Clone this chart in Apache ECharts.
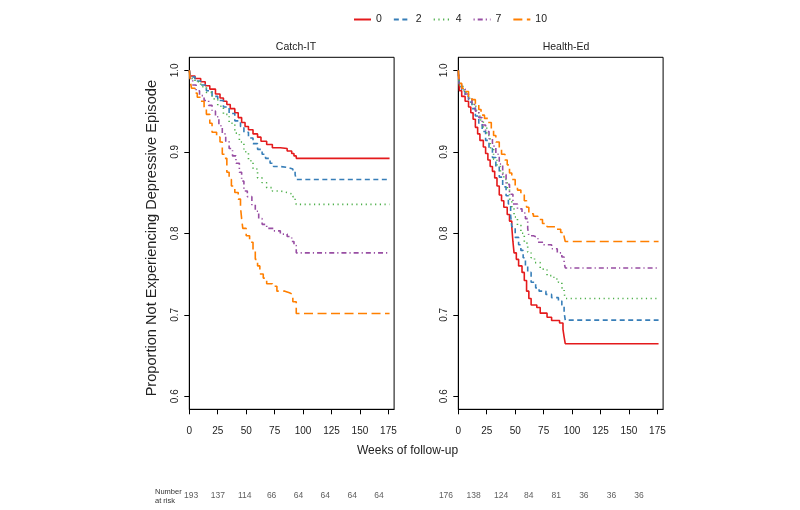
<!DOCTYPE html>
<html>
<head>
<meta charset="utf-8">
<script src="https://cdn.jsdelivr.net/npm/echarts@6/dist/echarts.min.js"></script>
<style>
html,body{margin:0;padding:0;background:#fff;}
#chart{width:800px;height:510px;}
</style>
</head>
<body>
<div id="chart"></div>
<script>
// ---- data ----
const groups = ['0', '2', '4', '7', '10'];
const panels = ['Catch-IT', 'Health-Ed'];
const xTicks = [0, 25, 50, 75, 100, 125, 150, 175];
const yTicks = [0.6, 0.7, 0.8, 0.9, 1.0];

// Catch-IT survival curves [week, proportion]
const catch0 = [[0,1],[1,0.993],[5,0.99],[10,0.986],[14,0.981],[18,0.977],[23,0.971],[27,0.966],[30,0.962],[33,0.958],[36,0.953],[40,0.948],[43,0.942],[46,0.936],[49,0.931],[52,0.927],[56,0.922],[60,0.918],[63,0.913],[68,0.909],[73,0.905],[80,0.904],[86,0.901],[90,0.898],[92,0.895],[94,0.892],[176,0.892]];
const catch2 = [[0,1],[1,0.992],[5,0.987],[10,0.982],[15,0.975],[20,0.968],[25,0.963],[30,0.955],[35,0.947],[40,0.938],[45,0.931],[48,0.924],[52,0.917],[56,0.910],[60,0.903],[64,0.897],[67,0.892],[71,0.886],[74,0.882],[80,0.881],[86,0.879],[91,0.876],[93,0.872],[94,0.866],[176,0.866]];
const catch4 = [[0,1],[1,0.99],[5,0.986],[10,0.98],[15,0.973],[20,0.965],[25,0.956],[30,0.946],[35,0.935],[40,0.923],[44,0.912],[48,0.900],[52,0.889],[56,0.879],[60,0.868],[64,0.862],[68,0.856],[73,0.852],[80,0.850],[86,0.848],[91,0.845],[93,0.842],[94,0.8355],[176,0.8355]];
const catch7 = [[0,1],[1,0.99],[3,0.982],[6,0.975],[9,0.969],[13,0.963],[17,0.957],[20,0.950],[23,0.943],[26,0.932],[29,0.922],[32,0.913],[35,0.904],[38,0.895],[41,0.886],[44,0.875],[46,0.864],[48,0.852],[51,0.845],[55,0.835],[58,0.827],[61,0.818],[64,0.811],[68,0.806],[74,0.803],[80,0.799],[86,0.796],[90,0.790],[92,0.785],[94,0.776],[176,0.776]];
const catch10 = [[0,1],[1,0.985],[2,0.978],[5,0.972],[7,0.967],[10,0.962],[13,0.955],[15,0.946],[18,0.935],[20,0.924],[24,0.918],[27,0.912],[29,0.897],[31,0.892],[33,0.875],[35,0.866],[37,0.858],[40,0.850],[43,0.842],[45,0.832],[46,0.818],[47,0.806],[50,0.797],[53,0.789],[56,0.779],[58,0.768],[60,0.760],[62,0.750],[65,0.745],[68,0.738],[73,0.735],[77,0.729],[84,0.727],[88,0.725],[91,0.716],[94,0.7016],[176,0.7016]];

// Health-Ed survival curves [week, proportion]
const health0 = [[0,1],[0.5,0.985],[1,0.975],[3,0.968],[6,0.962],[9,0.955],[11,0.948],[13,0.940],[15,0.930],[17,0.922],[19,0.914],[22,0.906],[24,0.898],[26,0.890],[28,0.882],[30,0.876],[32,0.868],[34,0.858],[36,0.847],[38,0.840],[40,0.832],[43,0.823],[45,0.815],[47,0.808],[48,0.790],[49,0.776],[51,0.768],[53,0.760],[56,0.752],[58,0.742],[60,0.729],[62,0.720],[64,0.712],[69,0.709],[72,0.702],[78,0.697],[82,0.693],[89,0.690],[92,0.682],[93,0.673],[94,0.6645],[176,0.6645]];
const health2 = [[0,1],[0.5,0.988],[1,0.98],[3,0.974],[6,0.968],[9,0.961],[12,0.953],[15,0.944],[18,0.935],[21,0.925],[24,0.914],[27,0.904],[30,0.893],[33,0.881],[36,0.869],[39,0.857],[42,0.846],[44,0.836],[46,0.822],[47,0.808],[50,0.795],[53,0.786],[55,0.779],[57,0.770],[59,0.760],[61,0.752],[64,0.740],[68,0.733],[71,0.729],[77,0.725],[82,0.721],[88,0.717],[91,0.712],[93,0.703],[94,0.6934],[176,0.6934]];
const health4 = [[0,1],[0.5,0.99],[1,0.982],[4,0.976],[7,0.970],[10,0.963],[13,0.956],[16,0.948],[19,0.939],[22,0.930],[25,0.920],[28,0.905],[31,0.891],[34,0.882],[37,0.874],[40,0.866],[43,0.855],[45,0.842],[47,0.830],[49,0.820],[52,0.810],[55,0.800],[58,0.788],[61,0.777],[64,0.770],[67,0.764],[72,0.756],[78,0.748],[84,0.744],[88,0.740],[91,0.733],[93,0.727],[94,0.720],[176,0.720]];
const health7 = [[0,1],[0.5,0.99],[1,0.984],[3,0.977],[6,0.971],[9,0.965],[12,0.958],[15,0.950],[18,0.942],[21,0.933],[24,0.925],[27,0.916],[30,0.907],[33,0.897],[36,0.885],[39,0.872],[42,0.860],[45,0.848],[48,0.836],[52,0.830],[56,0.825],[59,0.818],[61,0.806],[62,0.797],[66,0.795],[70,0.789],[75,0.786],[82,0.781],[87,0.776],[91,0.771],[93,0.764],[94,0.7575],[176,0.7575]];
const health10 = [[0,1],[0.5,0.99],[1,0.984],[3,0.978],[6,0.974],[9,0.968],[12,0.964],[15,0.959],[18,0.952],[20,0.945],[23,0.941],[26,0.936],[29,0.928],[31,0.920],[33,0.912],[36,0.905],[38,0.897],[41,0.890],[43,0.884],[45,0.874],[47,0.866],[50,0.858],[52,0.853],[55,0.847],[58,0.840],[60,0.832],[62,0.824],[66,0.821],[70,0.817],[74,0.812],[78,0.808],[86,0.805],[90,0.801],[93,0.796],[94,0.790],[176,0.790]];

// Number at risk
const riskCatch = [193, 137, 114, 66, 64, 64, 64, 64];
const riskHealth = [176, 138, 124, 84, 81, 36, 36, 36];

// ---- styling ----
const curveData = [[catch0, catch2, catch4, catch7, catch10], [health0, health2, health4, health7, health10]];
const colors = ['#E41A1C', '#377EB8', '#4DAF4A', '#984EA3', '#FF7F00'];
const dashes = ['solid', [5, 3.5], [1.2, 3.5], [1.2, 3, 5, 3], [9, 4.5]];
const FONT = '"Liberation Sans", Arial, sans-serif';
const plotLeft = [189.3, 458.3];
const plotW = 204.8, plotTop = 57.3, plotH = 352;

const grids = [], xAxes = [], yAxes = [], series = [];
for (let p = 0; p < 2; p++) {
  grids.push({ left: plotLeft[p], top: plotTop, width: plotW, height: plotH,
    show: true, borderColor: '#000', borderWidth: 1, backgroundColor: 'transparent' });
  xAxes.push({ type: 'value', gridIndex: p, min: 0, max: 180,
    axisLine: { show: true, lineStyle: { color: '#000', width: 1 } },
    axisTick: { show: true, length: 5, customValues: xTicks, lineStyle: { color: '#000' } },
    axisLabel: { customValues: xTicks, margin: 17, color: '#222', fontFamily: FONT, fontSize: 10 },
    splitLine: { show: false } });
  yAxes.push({ type: 'value', gridIndex: p, min: 0.584, max: 1.016,
    axisLine: { show: true, lineStyle: { color: '#000', width: 1 } },
    axisTick: { show: true, length: 5, customValues: yTicks, lineStyle: { color: '#000' } },
    axisLabel: { customValues: yTicks, rotate: 90, margin: 9, color: '#222', fontFamily: FONT, fontSize: 10,
      formatter: v => Number(v).toFixed(1) },
    splitLine: { show: false } });
  for (let g = 0; g < groups.length; g++) {
    series.push({ type: 'line', name: groups[g], xAxisIndex: p, yAxisIndex: p,
      data: curveData[p][g], step: 'end', symbol: 'none', silent: true,
      itemStyle: { color: colors[g] },
      lineStyle: { color: colors[g], width: 1.6, type: dashes[g] } });
  }
}

// number-at-risk rows (hidden category grids)
const riskRows = [riskCatch, riskHealth];
const riskLeft = [177.6, 432.2], riskW = [214.9, 220.6];
for (let r = 0; r < 2; r++) {
  const gi = grids.length;
  grids.push({ left: riskLeft[r], top: 488, width: riskW[r], height: 16 });
  xAxes.push({ type: 'category', gridIndex: gi, data: xTicks.map(String), show: false });
  yAxes.push({ type: 'value', gridIndex: gi, min: -1, max: 1, show: false });
  series.push({ type: 'scatter', xAxisIndex: gi, yAxisIndex: gi, symbolSize: 0, silent: true,
    data: riskRows[r].map((n, i) => [i, 0, n]),
    label: { show: true, position: 'inside', formatter: pr => String(pr.value[2]),
      color: '#333', fontFamily: FONT, fontSize: 8.5 } });
}

const chart = echarts.init(document.getElementById('chart'), null, { renderer: 'canvas' });
chart.setOption({
  animation: false,
  backgroundColor: '#fff',
  title: [
    { text: panels[0], left: 291, top: 37, textAlign: 'center',
      textStyle: { fontFamily: FONT, fontSize: 10.5, fontWeight: 'normal', color: '#222' } },
    { text: panels[1], left: 561, top: 37, textAlign: 'center',
      textStyle: { fontFamily: FONT, fontSize: 10.5, fontWeight: 'normal', color: '#222' } }
  ],
  legend: { data: groups, left: 348, top: 9, itemWidth: 17, itemHeight: 12, itemGap: 11,
    itemStyle: { opacity: 0 },
    textStyle: { fontFamily: FONT, fontSize: 10.5, color: '#222' } },
  grid: grids, xAxis: xAxes, yAxis: yAxes, series: series,
  graphic: [
    { type: 'text', left: 144.5, top: 80, rotation: Math.PI / 2,
      style: { text: 'Proportion Not Experiencing Depressive Episode', fontFamily: FONT, fontSize: 14.6,
        fill: '#222' } },
    { type: 'text', left: 357, top: 445,
      style: { text: 'Weeks of follow-up', fontFamily: FONT, fontSize: 12, fill: '#222' } },
    { type: 'text', left: 155, top: 487,
      style: { text: 'Number\nat risk', fontFamily: FONT, fontSize: 7.5, lineHeight: 9, fill: '#333' } }
  ]
});
</script>
</body>
</html>
